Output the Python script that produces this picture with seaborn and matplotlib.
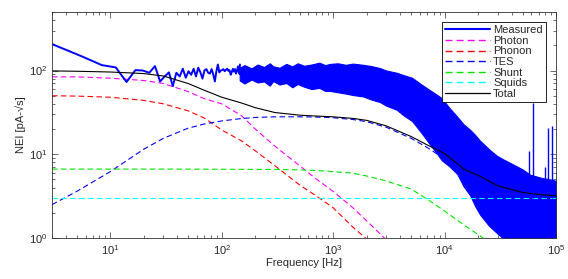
import numpy as np
import seaborn as sns
import matplotlib.pyplot as plt
from matplotlib.lines import Line2D

sns.set_style("ticks")
plt.rcParams["font.family"] = ["Liberation Sans", "DejaVu Sans"]
plt.rcParams["mathtext.fontset"] = "custom"
plt.rcParams["mathtext.rm"] = "Liberation Sans"

# gemessenes Spektrum: einzelne Bins (Abstand 2.8 Hz) bis ~145 Hz
meas_df_hz = 2.8
meas_low = [215, 147, 116, 109, 73, 101, 100, 94, 113, 74, 85, 95, 65, 94, 85, 105, 82, 98,
            89, 105, 85, 108, 95, 80, 100, 104, 94, 92, 104, 90, 74, 98, 118, 95, 100, 101,
            104, 98, 102, 105, 99, 101, 89, 96, 105, 97, 104, 92, 100, 112, 95, 118]

# darueber: dichtes Rauschband (obere / untere Huelle)
band_f = [145, 160, 185, 210, 240, 270, 290, 330, 380, 430, 480, 550, 640, 750, 850, 940,
          1100, 1300, 1500, 1860, 2200, 2630, 3000, 3720, 4300, 5100, 6200, 7420, 8400, 9400,
          1.1e4, 1.3e4, 1.47e4, 1.7e4, 1.88e4, 2.08e4, 2.5e4, 2.94e4, 3.3e4, 4.16e4, 5e4,
          5.85e4, 7.5e4, 9.3e4, 1e5]
band_hi = [108, 116, 106, 118, 110, 122, 112, 108, 120, 112, 122, 114, 118, 124, 116, 120,
           122, 117, 121, 117, 113, 107, 100, 94, 88, 82, 68, 58, 52, 47,
           36, 28, 23, 19.5, 17, 14.5, 11.5, 9.6, 8.8, 7.5, 6.6,
           5.7, 5.2, 4.95, 4.8]
band_lo = [76, 70, 78, 72, 74, 66, 75, 68, 71, 63, 69, 64, 60, 62, 57, 57,
           55, 53, 51, 49, 45, 42, 38, 34, 29, 25, 18, 13, 10.5, 8.5,
           7.2, 5.8, 4.2, 3.2, 2.4, 1.9, 1.4, 1.15, 1.0, 1.0, 1.0,
           1.0, 1.0, 1.0, 1.0]

# Stoerlinien
spike_f = [57000, 61600, 80000, 85000, 91000]
spike_v = [11, 41, 7.1, 20.7, 21.5]

# Modellkomponenten
f_grid = [3, 5, 10, 20, 30, 50, 70, 100, 150, 200, 300, 500, 700, 1000, 1500, 2000, 3000,
          5000, 7000, 1e4, 1.5e4, 2e4, 3e4, 5e4, 7e4, 1e5]
photon = [84, 84, 81, 76, 70, 56, 46, 40, 29, 20, 12.5, 7.3, 5.1, 3.6, 2.3, 1.6, 0.95,
          0.52, 0.35, 0.24, 0.15, 0.11, 0.07, 0.04, 0.03, 0.02]
phonon = [50, 49.5, 48, 44, 40, 33, 27, 19.5, 14.5, 11, 7.3, 4.3, 3.2, 2.3, 1.35, 0.97, 0.6,
          0.33, 0.22, 0.15, 0.1, 0.07, 0.05, 0.03, 0.02, 0.015]
tes = [2.5, 3.6, 6.2, 11.5, 15.5, 20.5, 23, 25, 26.7, 27.5, 28, 28, 27.8, 27.3, 26, 24.5, 21,
       15.5, 12, 8.8, 6, 4.5, 3.0, 1.8, 1.3, 0.9]
shunt = [6.65, 6.65, 6.65, 6.65, 6.65, 6.64, 6.63, 6.62, 6.61, 6.6, 6.6, 6.5, 6.4, 6.2, 5.95,
         5.5, 4.8, 3.85, 2.9, 2.1, 1.42, 1.1, 0.75, 0.45, 0.33, 0.23]
squids = [3.0] * len(f_grid)
total = [99, 98, 96, 92, 86, 70, 58, 48, 41, 36, 31.5, 29.3, 28.6, 28, 26.8, 25.4, 21.8,
         16.3, 12.9, 10.2, 6.6, 5.6, 4.2, 3.5, 3.3, 3.2]

meas_f = meas_df_hz * np.arange(1, len(meas_low) + 1)

fig, ax = plt.subplots(figsize=(5.68, 2.79), dpi=100)
fig.subplots_adjust(left=0.0915, right=0.979, bottom=0.147, top=0.957)

blue = (0, 0, 1)
dash = (0, (5, 3))
comps = [("Photon", photon, (1, 0, 1)), ("Phonon", phonon, (1, 0, 0)),
         ("TES", tes, (0, 0, 1)), ("Shunt", shunt, (0, 0.9, 0)),
         ("Squids", squids, (0, 1, 1))]

# Modellkurven zuerst, damit das Messband darueber liegt
for name, vals, col in comps:
    sns.lineplot(x=f_grid, y=vals, ax=ax, color=col, lw=0.8, linestyle=dash)

# gemessen
ax.fill_between(band_f, band_lo, band_hi, color=blue, lw=0.8, edgecolor=blue)
ax.vlines(spike_f, 3, spike_v, color=blue, lw=1.0)
sns.lineplot(x=list(meas_f) + [band_f[0]], y=meas_low + [np.sqrt(band_hi[0] * band_lo[0])],
             ax=ax, color=blue, lw=1.4)

sns.lineplot(x=f_grid, y=total, ax=ax, color="k", lw=0.8)

ax.set_xscale("log")
ax.set_yscale("log")
ax.set_xlim(3, 1e5)
ax.set_ylim(1, 500)
ax.set_xlabel("Frequency [Hz]", fontsize=8, labelpad=1)
ax.set_ylabel("NEI [pA-\u221as]", fontsize=8, labelpad=2)
ax.tick_params(which="both", direction="in", top=True, right=True, labelsize=8,
               color="0.2", width=0.5)
ax.tick_params(which="major", length=4)
ax.tick_params(which="minor", length=2)
for s in ax.spines.values():
    s.set_color("0.2")
    s.set_linewidth(0.6)

handles = [Line2D([], [], color=blue, lw=1.5, label="Measured")]
for name, vals, col in comps:
    handles.append(Line2D([], [], color=col, lw=1.0, linestyle=dash, label=name))
handles.append(Line2D([], [], color="k", lw=0.9, label="Total"))

leg = ax.legend(handles=handles, loc="upper right", fontsize=8, frameon=True,
                fancybox=False, edgecolor="k", framealpha=1, handlelength=4,
                labelspacing=0.05, borderpad=0.3, handletextpad=0.3, borderaxespad=0.9)
leg.get_frame().set_linewidth(0.6)

fig.savefig("out.png", dpi=100)
